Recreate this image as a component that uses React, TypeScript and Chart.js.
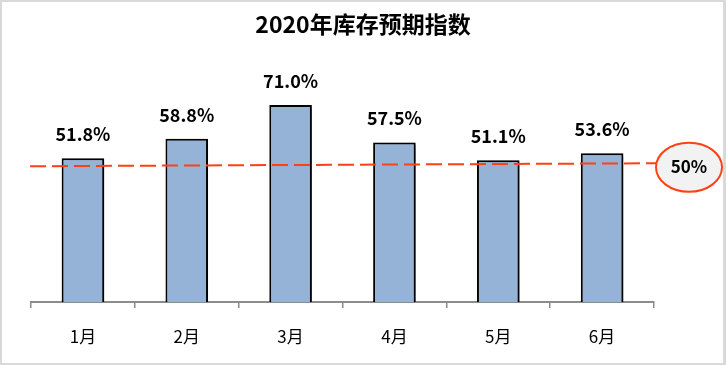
import React, { useEffect, useRef } from "react";
import { Chart, registerables } from "chart.js";

Chart.register(...registerables);

const TITLE = "2020年库存预期指数";
const categories = ["1月", "2月", "3月", "4月", "5月", "6月"];
const values = [51.8, 58.8, 71.0, 57.5, 51.1, 53.6];
const referenceValue = 50;
const referenceLabel = "50%";
const FONT = '"Noto Sans CJK SC", "Noto Sans", sans-serif';

const framePlugin = {
  id: "frame",
  beforeDraw(chart: any) {
    const { ctx, width, height } = chart;
    ctx.save();
    ctx.fillStyle = "#ffffff";
    ctx.fillRect(0, 0, width, height);
    ctx.restore();
  },
  afterDraw(chart: any) {
    const { ctx, width, height } = chart;
    ctx.save();
    ctx.strokeStyle = "#d9d9d9";
    ctx.lineWidth = 2;
    ctx.strokeRect(1, 1, width - 2, height - 2);
    ctx.fillStyle = "#d9d9d9";
    ctx.fillRect(width - 3, 0, 3, height);
    ctx.fillStyle = "#000000";
    ctx.font = `bold 23px ${FONT}`;
    ctx.textAlign = "center";
    ctx.textBaseline = "middle";
    ctx.fillText(TITLE, width / 2, 24);
    ctx.restore();
  },
};

const shadowPlugin = {
  id: "barShadow",
  beforeDatasetDraw(chart: any) {
    const ctx = chart.ctx;
    ctx.save();
    ctx.shadowColor = "rgba(0,0,0,0.45)";
    ctx.shadowOffsetX = 4;
    ctx.shadowOffsetY = 2;
    ctx.shadowBlur = 4;
  },
  afterDatasetDraw(chart: any) {
    chart.ctx.restore();
  },
};

const annotatePlugin = {
  id: "annotate",
  afterDatasetsDraw(chart: any) {
    const { ctx, chartArea, scales } = chart;
    const y = scales.y.getPixelForValue(referenceValue);
    ctx.save();
    ctx.strokeStyle = "#ff4014";
    ctx.lineWidth = 2;
    ctx.setLineDash([16, 6]);
    ctx.beginPath();
    ctx.moveTo(chartArea.left - 1, y + 3);
    ctx.lineTo(chartArea.right + 2, y);
    ctx.stroke();
    ctx.setLineDash([]);
    const cx = chartArea.right + 35;
    const cy = y + 4;
    ctx.beginPath();
    ctx.ellipse(cx, cy, 33, 24.5, 0, 0, Math.PI * 2);
    ctx.fillStyle = "#f2f2f2";
    ctx.fill();
    ctx.strokeStyle = "#ff4014";
    ctx.lineWidth = 2;
    ctx.stroke();
    ctx.fillStyle = "#000000";
    ctx.font = `bold 17px ${FONT}`;
    ctx.textAlign = "center";
    ctx.textBaseline = "middle";
    ctx.fillText(referenceLabel, cx, cy - 1);
    const meta = chart.getDatasetMeta(0);
    ctx.font = `bold 18px ${FONT}`;
    meta.data.forEach((bar: any, i: number) => {
      ctx.fillText(values[i].toFixed(1) + "%", bar.x, bar.y - 24);
    });
    ctx.restore();
  },
};

export default function App() {
  const ref = useRef<HTMLCanvasElement>(null);
  useEffect(() => {
    document.body.style.margin = "0";
    const chart = new Chart(ref.current!, {
      type: "bar",
      data: {
        labels: categories,
        datasets: [
          {
            data: values,
            backgroundColor: "#95b3d7",
            borderColor: "#000000",
            borderWidth: 2,
            borderSkipped: "bottom",
            categoryPercentage: 1,
            barPercentage: 0.41,
          },
        ],
      },
      options: {
        animation: false,
        responsive: false,
        layout: { padding: { left: 31, right: 72, top: 80, bottom: 0 } },
        plugins: {
          legend: { display: false },
          tooltip: { enabled: false },
          title: { display: false },
        },
        scales: {
          y: { display: false, min: 0, max: 80 },
          x: {
            offset: true,
            grid: {
              offset: true,
              drawOnChartArea: false,
              drawTicks: true,
              tickLength: 6,
              color: "#8c8c8c",
              lineWidth: 1.5,
            },
            border: { display: true, color: "#8c8c8c", width: 2 },
            ticks: {
              color: "#000000",
              padding: 18,
              font: { family: FONT, size: 17 },
            },
            afterFit(scale: any) {
              scale.height = 63;
            },
          },
        },
      },
      plugins: [framePlugin, shadowPlugin, annotatePlugin],
    });
    return () => chart.destroy();
  }, []);
  return (
    <div style={{ position: "absolute", left: 0, top: 0, width: 726, height: 365 }}>
      <canvas ref={ref} width={726} height={365} style={{ width: 726, height: 365 }} />
    </div>
  );
}
